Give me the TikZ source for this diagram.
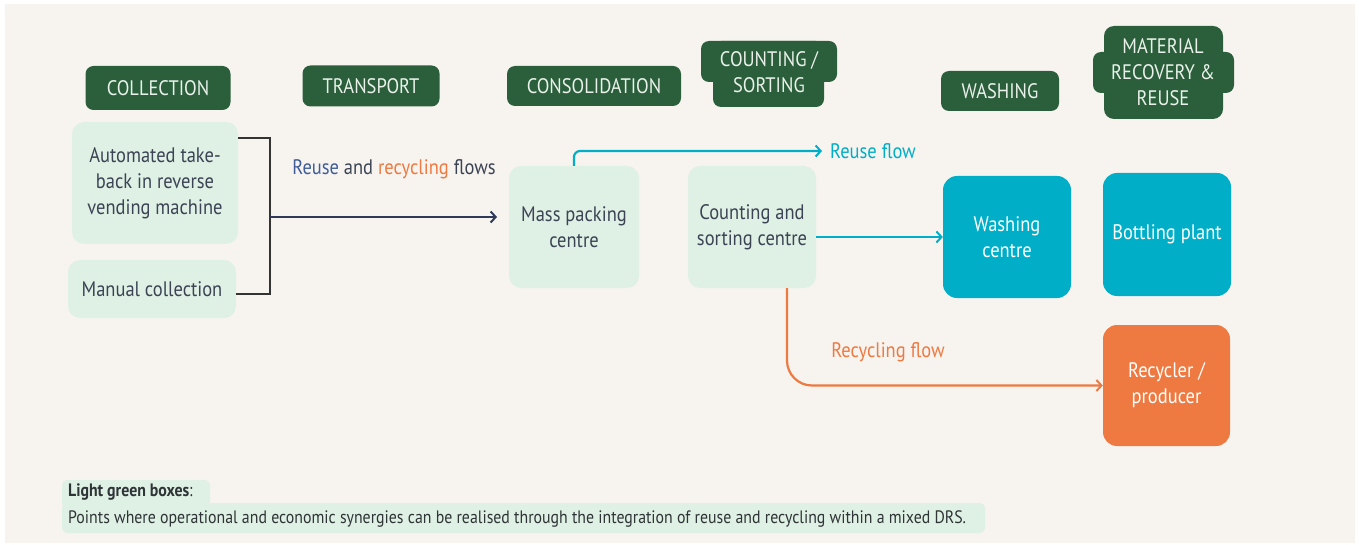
\documentclass[tikz,border=0pt]{standalone}
\usepackage{fontspec}
\setmainfont[FakeStretch=0.88]{PT Sans}
\usetikzlibrary{arrows.meta,positioning,calc}

\definecolor{bgcream}{HTML}{F7F4EF}
\definecolor{hdgreen}{HTML}{2B5F3C}
\definecolor{hdtext}{HTML}{EAF1EA}
\definecolor{lightgreen}{HTML}{DFF0E4}
\definecolor{boxtext}{HTML}{3B4354}
\definecolor{cyanbox}{HTML}{00AEC8}
\definecolor{orbox}{HTML}{EE7941}
\definecolor{navyline}{HTML}{2E3A58}
\definecolor{reuseblue}{HTML}{3D5C99}
\definecolor{brkgrey}{HTML}{333333}
\definecolor{legtext}{HTML}{2F3437}

\tikzset{
  headtext/.style={text=hdtext, align=center, inner sep=0pt, font=\fontsize{21}{26}\selectfont},
  head/.style={headtext, fill=hdgreen, rounded corners=8pt},
  lgbox/.style={fill=lightgreen, text=boxtext, rounded corners=12pt, align=center, inner sep=0pt, font=\fontsize{21}{26}\selectfont},
  bluebox/.style={lgbox, fill=cyanbox, text=white, rounded corners=14pt},
  orangebox/.style={lgbox, fill=orbox, text=white, rounded corners=14pt},
  tip/.style={-{Straight Barb[length=5pt,width=11pt,line width=2pt]}},
  brkline/.style={draw=brkgrey, line width=1.6pt},
  navyarrow/.style={draw=navyline, line width=2.2pt, tip},
  reuseflow/.style={draw=cyanbox, line width=2.2pt, tip},
  recflow/.style={draw=orbox, line width=2.2pt, tip}
}

\begin{document}
\begin{tikzpicture}[x=1pt,y=-1pt]
\fill[white] (0,0) rectangle (1359,545);
\fill[bgcream] (5,4) rectangle (1355,543);

% stage headers
\node[head, minimum width=145pt, minimum height=44pt] (hcoll) at (158,88) {COLLECTION};
\node[head, minimum width=137pt, minimum height=41pt] (htrans) at (371,86) {TRANSPORT};
\node[head, minimum width=174pt, minimum height=40pt] (hcons) at (594,86) {CONSOLIDATION};
\fill[hdgreen, rounded corners=8pt] (701,41) rectangle (837,82);
\fill[hdgreen, rounded corners=8pt] (713,41) rectangle (824,107);
\node[headtext] (hcount) at (769,72) {COUNTING /\\SORTING};
\node[head, minimum width=118pt, minimum height=40pt] (hwash) at (1000,91) {WASHING};
\fill[hdgreen, rounded corners=10pt] (1104,26) rectangle (1223,119);
\fill[hdgreen, rounded corners=8pt] (1093,52) rectangle (1234,93);
\node[headtext] (hmat) at (1163,72) {MATERIAL\\RECOVERY \&\\REUSE};

% boxes
\node[lgbox, minimum width=166pt, minimum height=122pt] (auto) at (155,183) {Automated take-\\back in reverse\\vending machine};
\node[lgbox, minimum width=168pt, minimum height=58pt] (man) at (152,289) {Manual collection};
\node[lgbox, minimum width=130pt, minimum height=122pt] (mass) at (574,227) {Mass packing\\centre};
\node[lgbox, minimum width=128pt, minimum height=122pt] (cnt) at (752,227) {Counting and\\sorting centre};
\node[bluebox, minimum width=128pt, minimum height=122pt] (wash) at (1007,237) {Washing\\centre};
\node[bluebox, minimum width=128pt, minimum height=123pt] (bott) at (1167,234.5) {Bottling plant};
\node[orangebox, minimum width=127pt, minimum height=121pt] (recyc) at (1166.5,385.5) {Recycler /\\producer};

% transport
\coordinate (brk) at (270,217);
\coordinate (trend) at (497,217);
\draw[brkline] ([yshift=-16pt]auto.north east) -| (brk);
\draw[brkline] ([yshift=-5pt]man.east) -| (brk);
\draw[navyarrow] (brk) -- (trend);
\node[text=boxtext, font=\fontsize{21}{26}\selectfont] (flowlbl) at (394,169) {\textcolor{reuseblue}{Reuse} and \textcolor{orbox}{recycling} flows};

% reuse and recycling flows
\node[text=cyanbox, anchor=west, inner xsep=8pt, font=\fontsize{21}{26}\selectfont] (reuselbl) at (822,151) {Reuse flow};
\draw[reuseflow, rounded corners=6pt] (mass.north) |- (reuselbl.west);
\draw[reuseflow] (cnt.east |- wash.west) -- (wash.west);
\draw[recflow, rounded corners=25pt] ([xshift=35pt]cnt.south) |- (recyc.west);
\node[text=orbox, font=\fontsize{21}{26}\selectfont] (reclbl) at (888,352) {Recycling flow};

% legend
\fill[lightgreen, rounded corners=5pt] (62,480) rectangle (210,508);
\fill[lightgreen, rounded corners=5pt] (62,503) rectangle (985,533);
\node[anchor=west, text=legtext, inner sep=0pt, font=\fontsize{18}{21}\selectfont] (legtitle) at (68,492) {\textbf{Light green boxes}:};
\node[anchor=west, text=legtext, inner sep=0pt, font=\fontsize{18}{21}\selectfont] (legbody) at (68,519) {Points where operational and economic synergies can be realised through the integration of reuse and recycling within a mixed DRS.};
\end{tikzpicture}
\end{document}
